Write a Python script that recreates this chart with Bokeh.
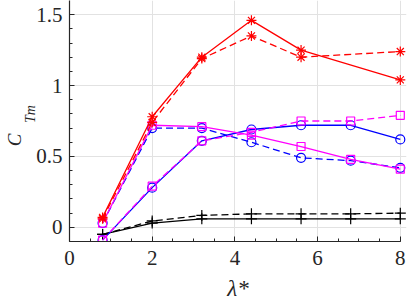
from bokeh.plotting import figure
from bokeh.models import FixedTicker, LinearAxis
from bokeh.embed import file_html
from bokeh.resources import INLINE

# ---- data ----
lam = [0.8, 2, 3.2, 4.4, 5.6, 6.8, 8]
lam_red = [0.8, 2, 3.2, 4.4, 5.6, 8]

red_solid = [0.07, 0.78, 1.20, 1.46, 1.25, 1.04]
red_dashed = [0.06, 0.74, 1.19, 1.35, 1.20, 1.24]
blue_solid = [-0.09, 0.28, 0.61, 0.69, 0.72, 0.72, 0.62]
blue_dashed = [0.03, 0.70, 0.70, 0.60, 0.49, 0.47, 0.42]
mag_solid = [0.03, 0.72, 0.71, 0.65, 0.57, 0.48, 0.41]
mag_dashed = [-0.09, 0.29, 0.61, 0.67, 0.75, 0.75, 0.79]
black_solid = [-0.05, 0.03, 0.06, 0.06, 0.06, 0.06, 0.06]
black_dashed = [-0.05, 0.045, 0.084, 0.095, 0.095, 0.095, 0.10]

x_ticks = [0, 2, 4, 6, 8]
x_tick_labels = ["0", "2", "4", "6", "8"]
x_minor = [0, 0.5, 1, 1.5, 2, 2.5, 3, 3.5, 4, 4.5, 5, 5.5, 6, 6.5, 7, 7.5, 8]
y_ticks = [0, 0.5, 1, 1.5]
y_tick_labels = ["0", "0.5", "1", "1.5"]
y_minor = [-0.1, 0, 0.1, 0.2, 0.3, 0.4, 0.5, 0.6, 0.7, 0.8, 0.9, 1.0,
           1.1, 1.2, 1.3, 1.4, 1.5]

x_label = "λ*"
y_label_main = "C"
y_label_sub = "Tm"

FONT = "Liberation Serif"
AX = "#262626"
NBSP = "\u00a0"

p = figure(width=407, height=303, output_backend="svg", toolbar_location=None,
           x_range=(0, 8.15), y_range=(-0.1, 1.60),
           min_border_left=68, min_border_right=1, min_border_top=0,
           min_border_bottom=60)
p.outline_line_color = None
p.background_fill_color = "white"
p.border_fill_color = "white"

p.xaxis.ticker = FixedTicker(ticks=x_ticks, minor_ticks=x_minor)
p.yaxis.ticker = FixedTicker(ticks=y_ticks, minor_ticks=y_minor)
p.xaxis.major_label_overrides = {str(t): l for t, l in zip(x_ticks, x_tick_labels)}
p.yaxis.major_label_overrides = {str(t): l for t, l in zip(y_ticks, y_tick_labels)}
p.xaxis.bounds = (0, 8)

for ax in (p.xaxis[0], p.yaxis[0]):
    ax.axis_line_color = AX
    ax.axis_line_width = 1.2
    ax.major_tick_in = 5
    ax.major_tick_out = 0
    ax.minor_tick_in = 3
    ax.minor_tick_out = 0
    ax.major_tick_line_color = AX
    ax.minor_tick_line_color = AX
    ax.major_tick_line_width = 1
    ax.minor_tick_line_width = 1
    ax.major_label_text_font = FONT
    ax.major_label_text_font_size = "21px"
    ax.major_label_text_color = AX

p.xaxis.major_label_standoff = 9
p.yaxis.major_label_standoff = 7

p.xaxis.axis_label = x_label
p.xaxis.axis_label_text_font = FONT
p.xaxis.axis_label_text_font_style = "italic"
p.xaxis.axis_label_text_font_size = "23px"
p.xaxis.axis_label_text_color = AX
p.xaxis.axis_label_standoff = 8

for g in (p.xgrid[0], p.ygrid[0]):
    g.grid_line_color = "#e2e2e2"
    g.grid_line_width = 1

LW = 1.3
MS = 9


def series(x, y, color, dash, marker, size=MS):
    p.line(x, y, line_color=color, line_width=LW, line_dash=dash)
    p.scatter(x, y, marker=marker, size=size, line_color=color,
              fill_color=None, line_width=1.2)


series(lam, black_solid, "#000000", "solid", "cross", 11)
series(lam, black_dashed, "#000000", "7 4", "cross", 11)
series(lam, blue_solid, "#0000ff", "solid", "circle")
series(lam, blue_dashed, "#0000ff", "7 4", "circle")
series(lam, mag_solid, "#ff00ff", "solid", "square", 8)
series(lam, mag_dashed, "#ff00ff", "7 4", "square", 8)
series(lam_red, red_solid, "#ff0000", "solid", "asterisk", 10)
series(lam_red, red_dashed, "#ff0000", "7 4", "asterisk", 10)


# y-axis label C_{Tm}: two tick-less axes carry the letter and its subscript;
# non-breaking spaces shift each part along the axis (text reads upwards)
def label_axis(text, size, standoff):
    a = LinearAxis(ticker=FixedTicker(ticks=[]),
                   axis_line_color=None, major_tick_line_color=None,
                   minor_tick_line_color=None, major_tick_in=0,
                   major_tick_out=0, minor_tick_in=0, minor_tick_out=0,
                   major_label_standoff=0, axis_label=text,
                   axis_label_standoff=standoff, axis_label_text_font=FONT,
                   axis_label_text_font_style="italic",
                   axis_label_text_font_size=size,
                   axis_label_text_color=AX)
    p.add_layout(a, "left")


label_axis(NBSP * 4 + y_label_sub, "14px", -4)
label_axis(y_label_main + NBSP * 8, "19px", -5)

open("out.html", "w").write(file_html(p, INLINE))
